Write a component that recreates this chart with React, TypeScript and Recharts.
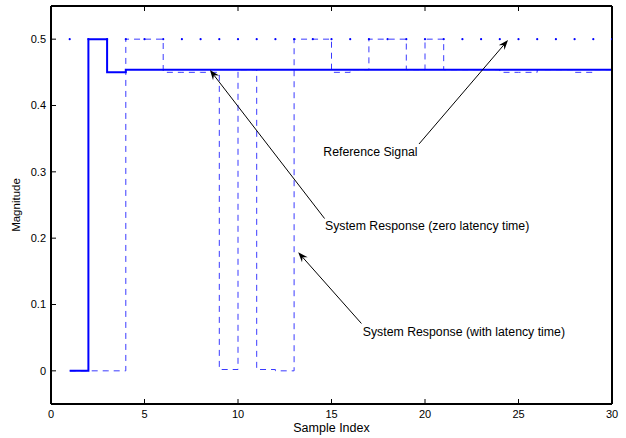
import React from 'react';
import { LineChart, Line, XAxis, YAxis, ReferenceLine, ReferenceDot } from 'recharts';

const sampleIndex = [1, 2, 3, 4, 5, 6, 7, 8, 9, 10, 11, 12, 13, 14, 15, 16, 17, 18, 19, 20, 21, 22, 23, 24, 25, 26, 27, 28, 29, 30];
const referenceSignal = [0.5, 0.5, 0.5, 0.5, 0.5, 0.5, 0.5, 0.5, 0.5, 0.5, 0.5, 0.5, 0.5, 0.5, 0.5, 0.5, 0.5, 0.5, 0.5, 0.5, 0.5, 0.5, 0.5, 0.5, 0.5, 0.5, 0.5, 0.5, 0.5, 0.5];
const zeroLatencyResponse = [0, 0.5, 0.45, 0.454, 0.454, 0.454, 0.454, 0.454, 0.454, 0.454, 0.454, 0.454, 0.454, 0.454, 0.454, 0.454, 0.454, 0.454, 0.454, 0.454, 0.454, 0.454, 0.454, 0.454, 0.454, 0.454, 0.454, 0.454, 0.454, 0.454];
const latencyResponse = [0, 0, 0, 0.5, 0.5, 0.45, 0.45, 0.45, 0.002, 0.454, 0.002, 0, 0.5, 0.5, 0.45, 0.454, 0.5, 0.5, 0.454, 0.5, 0.454, 0.454, 0.454, 0.45, 0.45, 0.454, 0.454, 0.45, 0.454, 0.454];
const xTicks = [0, 5, 10, 15, 20, 25, 30];
const yTicks = [0, 0.1, 0.2, 0.3, 0.4, 0.5];

const annotationTexts = ['Reference Signal', 'System Response (zero latency time)', 'System Response (with latency time)'];
const annotationTextX = [14.56, 14.65, 16.67];
const annotationTextY = [0.3297, 0.2183, 0.0585];
const arrowTailX = [19.68, 14.63, 16.6];
const arrowTailY = [0.342, 0.2296, 0.0714];
const arrowTipX = [24.44, 8.5, 13.22];
const arrowTipY = [0.4987, 0.4535, 0.1787];

const data = sampleIndex.map((x, i) => ({
  x,
  ref: referenceSignal[i],
  zero: zeroLatencyResponse[i],
  lat: latencyResponse[i],
}));

const ArrowShape = (props: any) => {
  const { x1, y1, x2, y2 } = props;
  const dx = x2 - x1;
  const dy = y2 - y1;
  const len = Math.hypot(dx, dy) || 1;
  const ux = dx / len;
  const uy = dy / len;
  const px = -uy;
  const py = ux;
  const L = 10;
  const W = 3.8;
  const N = 6.5;
  const bx = x2 - ux * L;
  const by = y2 - uy * L;
  const pts = `${x2},${y2} ${bx + px * W},${by + py * W} ${x2 - ux * N},${y2 - uy * N} ${bx - px * W},${by - py * W}`;
  return (
    <g>
      <line x1={x1} y1={y1} x2={x2 - ux * N} y2={y2 - uy * N} stroke="#000" strokeWidth={1} />
      <polygon points={pts} fill="#000" stroke="none" />
    </g>
  );
};

const emptyFmt = () => '';

export default function App() {
  return (
    <div style={{ position: 'absolute', left: 0, top: 0, width: 626, height: 438, background: '#fff', fontFamily: '"Liberation Sans", Arial, sans-serif' }}>
      <LineChart width={626} height={438} data={data} margin={{ top: 0, right: 0, bottom: 0, left: 0 }}>
        <XAxis
          dataKey="x"
          type="number"
          domain={[0, 30]}
          ticks={xTicks}
          allowDataOverflow
          height={34}
          axisLine={{ stroke: '#000', strokeWidth: 2 }}
          tickLine={{ stroke: '#000', strokeWidth: 1 }}
          tickSize={-5}
          tickMargin={11}
          tick={{ fontSize: 11, fill: '#000' }}
          label={{ value: 'Sample Index', position: 'insideBottom', offset: 6, fontSize: 12.5, fill: '#000' }}
        />
        <XAxis
          xAxisId="top"
          orientation="top"
          dataKey="x"
          type="number"
          domain={[0, 30]}
          ticks={xTicks}
          height={6}
          axisLine={{ stroke: '#000', strokeWidth: 2 }}
          tickLine={{ stroke: '#000', strokeWidth: 1 }}
          tickSize={-5}
          tickFormatter={emptyFmt}
        />
        <YAxis
          type="number"
          domain={[-0.05, 0.55]}
          ticks={yTicks}
          allowDataOverflow
          width={51}
          axisLine={{ stroke: '#000', strokeWidth: 2 }}
          tickLine={{ stroke: '#000', strokeWidth: 1 }}
          tickSize={-5}
          tickMargin={10}
          tick={{ fontSize: 11, fill: '#000' }}
          label={{ value: 'Magnitude', angle: -90, position: 'insideLeft', offset: 16, fontSize: 11.5, fill: '#000', style: { textAnchor: 'middle' } }}
        />
        <YAxis
          yAxisId="right"
          orientation="right"
          type="number"
          domain={[-0.05, 0.55]}
          ticks={yTicks}
          width={14}
          axisLine={{ stroke: '#000', strokeWidth: 2 }}
          tickLine={{ stroke: '#000', strokeWidth: 1 }}
          tickSize={-5}
          tickFormatter={emptyFmt}
        />
        <Line
          dataKey="lat"
          type="stepAfter"
          stroke="#3a3aff"
          strokeWidth={1}
          strokeDasharray="6 5"
          dot={false}
          activeDot={false}
          isAnimationActive={false}
        />
        <Line
          dataKey="zero"
          type="stepAfter"
          stroke="#0000ff"
          strokeWidth={2}
          dot={false}
          activeDot={false}
          isAnimationActive={false}
        />
        <Line
          dataKey="ref"
          type="linear"
          stroke="none"
          dot={{ r: 1.1, fill: '#0000ff', stroke: 'none' }}
          activeDot={false}
          isAnimationActive={false}
        />
        {annotationTexts.map((t, i) => (
          <ReferenceLine
            key={'a' + i}
            segment={[
              { x: arrowTailX[i], y: arrowTailY[i] },
              { x: arrowTipX[i], y: arrowTipY[i] },
            ]}
            shape={ArrowShape}
          />
        ))}
        {annotationTexts.map((t, i) => (
          <ReferenceDot
            key={'t' + i}
            x={annotationTextX[i]}
            y={annotationTextY[i]}
            r={0}
            fill="none"
            stroke="none"
            label={{ value: t, position: 'right', offset: 0, fontSize: 12.3, fill: '#000' }}
          />
        ))}
      </LineChart>
    </div>
  );
}
